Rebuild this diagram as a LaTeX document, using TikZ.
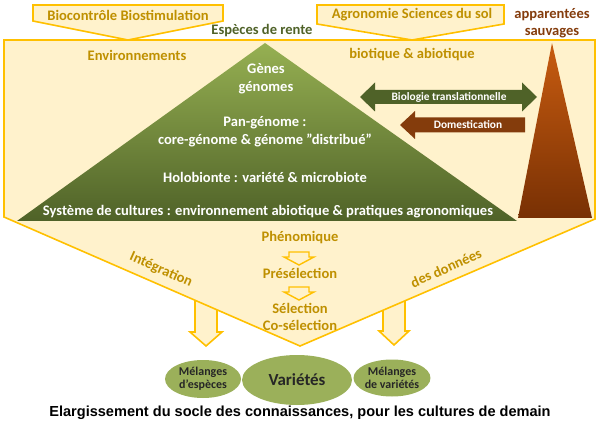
\documentclass[tikz,border=0pt]{standalone}
\usepackage{fontspec}
\setmainfont{Carlito}
\newfontfamily\captionfont{Liberation Sans}
\usetikzlibrary{shapes.geometric}

\definecolor{boxline}{RGB}{255,192,0}
\definecolor{boxfill}{RGB}{255,242,204}
\definecolor{goldtext}{RGB}{191,144,0}
\definecolor{greenlight}{RGB}{150,176,82}
\definecolor{greendark}{RGB}{79,98,40}
\definecolor{brownlight}{RGB}{200,92,16}
\definecolor{browndark}{RGB}{120,48,4}
\definecolor{arrowbrown}{RGB}{132,60,12}
\definecolor{cropgreen}{RGB}{155,176,90}

\tikzset{
  hollow/.style={draw=boxline, fill=boxfill, line width=1.6bp},
  goldlabel/.style={font=\fontsize{14.6}{17.5}\selectfont\bfseries, text=goldtext, align=center, inner sep=0pt},
  whitelabel/.style={font=\fontsize{14.6}{18}\selectfont\bfseries, text=white, align=center, inner sep=0pt},
  arrowlabel/.style={font=\fontsize{11.4}{13}\selectfont\bfseries, text=white, inner sep=0pt},
  crop/.style={ellipse, fill=cropgreen, inner sep=0pt, align=center, text=black!85}
}

\begin{document}
\begin{tikzpicture}[x=1bp, y=-1bp]
    \useasboundingbox (0,0) rectangle (600,434);

    % down arrows to the mixtures (under the funnel)
    \draw[hollow] (195,290) -- (195,332) -- (190,332) -- (206,346) -- (222,332) -- (217,332) -- (217,290);
    \draw[hollow] (383,290) -- (383,331) -- (379,331) -- (394,345) -- (409,331) -- (405,331) -- (405,290);

    % funnel
    \draw[hollow] (4,40) -- (595,40) -- (595,219) -- (300,346) -- (4,217) -- cycle;

    % top boxes
    \draw[hollow] (33,5) -- (223,5) -- (223,21) -- (128,40) -- (33,21) -- cycle;
    \node[goldlabel] (bio) at (128,15) {Biocontrôle Biostimulation};
    \draw[hollow] (317,5) -- (504,5) -- (504,24) -- (412,40) -- (317,24) -- cycle;
    \node[goldlabel] (agro) at (412,15) {Agronomie Sciences du sol};

    % species triangles
    \shade[top color=greenlight, bottom color=greendark] (265,43) -- (517,221) -- (17,221) -- cycle;
    \shade[top color=brownlight, bottom color=browndark] (552,43) -- (592,218) -- (518,218) -- cycle;
    \node[goldlabel, text=greendark] (rente) at (262,31) {Espèces de rente};
    \node[goldlabel, text=arrowbrown] (sauvages) at (552,23) {apparentées\\sauvages};

    % environments
    \node[goldlabel] (env) at (137,55) {Environnements};
    \node[goldlabel] (biot) at (412,55) {biotique \& abiotique};

    % levels
    \node[whitelabel] (genes) at (266,79) {Gènes\\génomes};
    \node[whitelabel] (pan) at (265,132) {Pan-génome :\\core-génome \& génome "distribué"};
    \node[whitelabel] (holo) at (265,177) {Holobionte : variété \& microbiote};
    \node[whitelabel] (syst) at (268,212) {Système de cultures : environnement abiotique \& pratiques agronomiques};

    % translational arrows
    \fill[greendark] (360,97) -- (375,82.5) -- (375,90) -- (522,90) -- (522,82.5) -- (537,97)
        -- (522,111.5) -- (522,104) -- (375,104) -- (375,111.5) -- cycle;
    \node[arrowlabel] (transl) at (449,97) {Biologie translationnelle};
    \fill[arrowbrown] (400,125) -- (415,111) -- (415,117.5) -- (525,117.5) -- (525,132.5)
        -- (415,132.5) -- (415,139) -- cycle;
    \node[arrowlabel] (domest) at (468,125) {Domestication};

    % selection steps
    \node[goldlabel] (pheno) at (300,238) {Phénomique};
    \draw[hollow, line width=1.4bp] (289,252) -- (309,252) -- (309,257) -- (314,257) -- (299,265) -- (284,257) -- (289,257) -- cycle;
    \node[goldlabel] (presel) at (300,273) {Présélection};
    \draw[hollow, line width=1.4bp] (289,287) -- (309,287) -- (309,292) -- (314,292) -- (299,300) -- (284,292) -- (289,292) -- cycle;
    \node[goldlabel] (sel) at (300,317) {Sélection\\Co-sélection};

    % data integration
    \node[goldlabel, rotate=-24] (integ) at (161,270) {Intégration};
    \node[goldlabel, rotate=24] (donnees) at (446,268) {des données};

    % outputs
    \node[crop, minimum width=76bp, minimum height=38bp, font=\fontsize{12}{13.5}\selectfont\bfseries] (mel1) at (203,379) {Mélanges\\d’espèces};
    \node[crop, minimum width=110bp, minimum height=50bp, font=\fontsize{17}{19}\selectfont\bfseries] (var) at (297,380) {Variétés};
    \node[crop, minimum width=72bp, minimum height=37bp, font=\fontsize{12}{13.5}\selectfont\bfseries] (mel2) at (392,378) {Mélanges\\de variétés};

    % caption
    \node[font=\captionfont\fontsize{14.6}{16}\selectfont\bfseries, inner sep=0pt] (caption) at (300,413)
        {Elargissement du socle des connaissances, pour les cultures de demain};
\end{tikzpicture}
\end{document}
